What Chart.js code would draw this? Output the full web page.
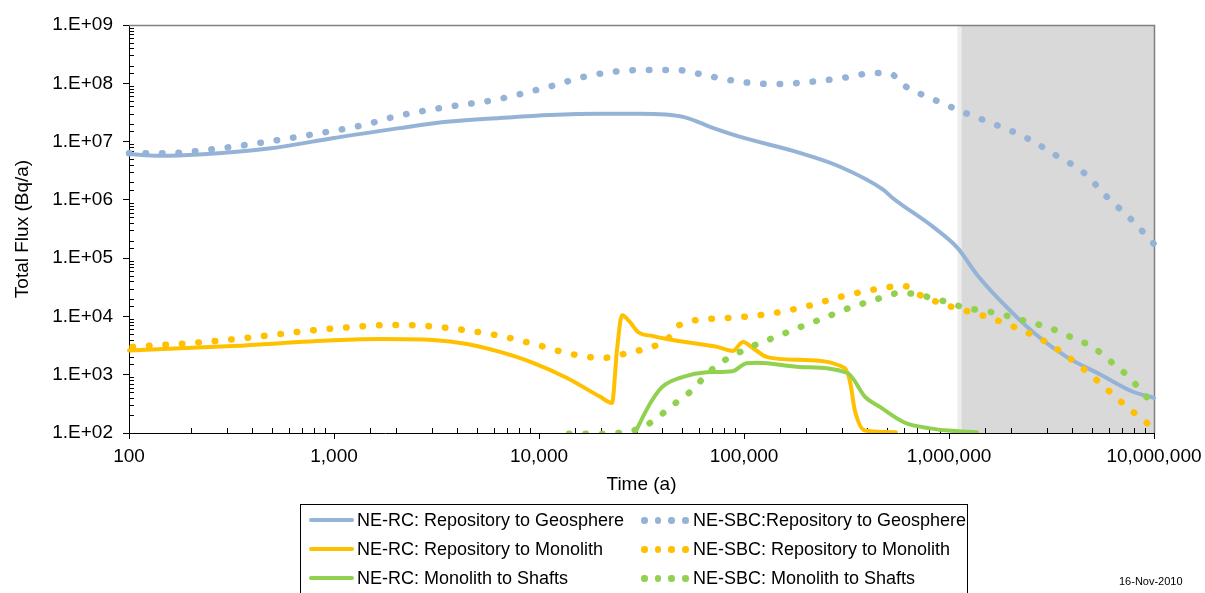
<!DOCTYPE html>
<html>
<head>
<meta charset="utf-8">
<script src="https://cdn.jsdelivr.net/npm/chart.js@4/dist/chart.umd.min.js"></script>
<style>
  body { margin: 0; background: #fff; }
  #wrap { position: relative; width: 1205px; height: 593px; overflow: hidden; font-family: "Liberation Sans", Arial, sans-serif; }
  #legend { position: absolute; left: 300px; top: 504px; width: 668px; height: 100px; border: 1px solid #000; box-sizing: border-box; }
  .item { position: absolute; font-size: 18px; line-height: 20px; color: #000; white-space: nowrap; }
  .swatch { position: absolute; top: 8px; height: 4px; border-radius: 2px; }
  .dot { position: absolute; top: 7px; width: 6.5px; height: 6.5px; border-radius: 50%; }
  #date { position: absolute; left: 1119px; top: 575px; font-size: 11px; color: #000; }
</style>
</head>
<body>
<div id="wrap">
  <canvas id="myChart" width="1205" height="593"></canvas>
  <div id="legend"></div>
  <div id="date">16-Nov-2010</div>
</div>
<script>
// tick labels
const xTickLabels = ['100', '1,000', '10,000', '100,000', '1,000,000', '10,000,000'];
const yTickLabels = ['1.E+02', '1.E+03', '1.E+04', '1.E+05', '1.E+06', '1.E+07', '1.E+08', '1.E+09'];

// series names (legend order: rows, two columns)
const seriesLabels = [
  'NE-RC: Repository to Geosphere', 'NE-SBC:Repository to Geosphere',
  'NE-RC: Repository to Monolith', 'NE-SBC: Repository to Monolith',
  'NE-RC: Monolith to Shafts', 'NE-SBC: Monolith to Shafts'
];

// NE-RC: Repository to Geosphere
const rcGeoT = [100, 140, 220, 480, 1000, 2090, 3660, 6460, 1.13e4, 2.0e4, 3.1e4, 5.1e4, 7.1e4, 9.6e4, 1.87e5, 2.94e5, 4.77e5, 5.27e5, 8.4e5, 1.1e6, 1.37e6, 1.77e6, 2.6e6, 3.76e6, 5.5e6, 7.9e6, 1e7];
const rcGeoV = [6.1e6, 5.7e6, 6.0e6, 7.6e6, 1.15e7, 1.7e7, 2.2e7, 2.54e7, 2.86e7, 3.0e7, 3.0e7, 2.63e7, 1.7e7, 1.2e7, 6.4e6, 3.7e6, 1.5e6, 1.1e6, 3.4e5, 1.5e5, 5.2e4, 1.9e4, 5.2e3, 2.0e3, 1.0e3, 5.1e2, 4.0e2];

// NE-SBC: Repository to Geosphere
const sbcGeoT = [100, 150, 265, 460, 807, 1400, 2030, 3520, 6100, 1.06e4, 1.83e4, 3.2e4, 4.66e4, 6.75e4, 9.8e4, 1.43e5, 2.07e5, 3.0e5, 4.36e5, 5.2e5, 6.0e5, 8.5e5, 1.2e6, 1.7e6, 2.4e6, 3.3e6, 4.56e6, 5.9e6, 7.7e6, 1e7];
const sbcGeoV = [6.3e6, 6.3e6, 7.5e6, 9.8e6, 1.35e7, 1.93e7, 2.74e7, 3.9e7, 5.2e7, 8.3e7, 1.39e8, 1.69e8, 1.69e8, 1.33e8, 1.05e8, 9.7e7, 1.05e8, 1.23e8, 1.5e8, 1.45e8, 9.3e7, 5.2e7, 3.1e7, 1.93e7, 1.15e7, 5.9e6, 2.9e6, 1.12e6, 4.7e5, 1.75e5];

// NE-RC: Repository to Monolith
const rcMonoT = [100, 320, 1000, 1700, 3040, 4460, 6460, 9350, 1.37e4, 1.99e4, 2.27e4, 2.40e4, 2.54e4, 2.78e4, 3.04e4, 3.6e4, 4.2e4, 5.6e4, 7.4e4, 8.8e4, 9.9e4, 1.1e5, 1.3e5, 1.87e5, 3.1e5, 3.3e5, 3.47e5, 3.9e5, 5.5e5];
const rcMonoV = [2.6e3, 3.1e3, 3.9e3, 4.1e3, 3.95e3, 3.37e3, 2.46e3, 1.6e3, 880, 417, 328, 2.6e3, 1.05e4, 8.0e3, 5.4e3, 4.6e3, 4.1e3, 3.5e3, 3.0e3, 2.56e3, 3.65e3, 2.9e3, 2.0e3, 1.8e3, 1.3e3, 720, 249, 110, 103];

// NE-SBC: Repository to Monolith
const sbcMonoT = [104, 235, 412, 723, 1050, 1830, 2270, 3210, 4710, 6830, 9800, 1.42e4, 2.05e4, 2.48e4, 3.0e4, 3.55e4, 4.2e4, 4.7e4, 5.6e4, 6.7e4, 9.8e4, 1.42e5, 2.05e5, 2.94e5, 4.2e5, 5.1e5, 6.1e5, 7.2e5, 1.03e6, 1.48e6, 2.12e6, 2.97e6, 4.1e6, 5.45e6, 7.1e6, 9.5e6, 1e7];
const sbcMonoV = [3.0e3, 3.65e3, 4.45e3, 5.6e3, 6.3e3, 7.1e3, 7.1e3, 6.6e3, 5.6e3, 4.45e3, 3.25e3, 2.28e3, 1.94e3, 2.2e3, 2.55e3, 3.0e3, 3.95e3, 6.6e3, 8.4e3, 9.0e3, 9.8e3, 1.15e4, 1.51e4, 2.16e4, 2.85e4, 3.2e4, 3.3e4, 2.34e4, 1.46e4, 1.02e4, 6.4e3, 3.65e3, 1.66e3, 720, 316, 138, 122];

// NE-RC: Monolith to Shafts
const rcShaftT = [2.94e4, 3.11e4, 3.5e4, 4.0e4, 5.0e4, 6.6e4, 8.8e4, 1.03e5, 1.16e5, 1.87e5, 3.2e5, 3.9e5, 4.6e5, 6.1e5, 8.1e5, 9.9e5, 1.37e6];
const rcShaftV = [100, 150, 330, 620, 910, 1.1e3, 1.15e3, 1.58e3, 1.6e3, 1.36e3, 1.07e3, 415, 280, 150, 120, 110, 103];

// NE-SBC: Monolith to Shafts
const sbcShaftT = [1.4e4, 2.0e4, 2.94e4, 3.55e4, 4.1e4, 4.7e4, 5.45e4, 6.2e4, 7.1e4, 8.4e4, 9.9e4, 1.17e5, 1.42e5, 1.68e5, 1.99e5, 2.38e5, 2.85e5, 3.37e5, 4.03e5, 4.82e5, 5.77e5, 6.98e5, 8.36e5, 1e6, 1.2e6, 1.45e6, 1.73e6, 2.08e6, 2.48e6, 3.0e6, 3.56e6, 4.21e6, 5.04e6, 5.83e6, 6.75e6, 7.72e6, 8.74e6, 1e7];
const sbcShaftV = [97, 97, 113, 155, 230, 340, 505, 810, 1.3e3, 1.94e3, 2.6e3, 3.4e3, 4.4e3, 5.6e3, 7.1e3, 9.0e3, 1.16e4, 1.46e4, 1.77e4, 2.16e4, 2.53e4, 2.4e4, 2.03e4, 1.73e4, 1.4e4, 1.27e4, 1.12e4, 9.5e3, 7.9e3, 6.6e3, 5.2e3, 3.95e3, 3.0e3, 1.94e3, 1.3e3, 840, 505, 303];

// start of the grey band (years)
const shadeStart = 1.15e6;

const blue = '#95B3D7';
const orange = '#FFC000';
const green = '#92D050';
const colors = [blue, blue, orange, orange, green, green];
const dotted = [false, true, false, true, false, true];

function pts(t, v) { return t.map((x, i) => ({ x: x, y: v[i] })); }
function isPow10(v) { const l = Math.log10(v); return Math.abs(l - Math.round(l)) < 1e-6; }

const series = [pts(rcGeoT, rcGeoV), pts(sbcGeoT, sbcGeoV), pts(rcMonoT, rcMonoV),
                pts(sbcMonoT, sbcMonoV), pts(rcShaftT, rcShaftV), pts(sbcShaftT, sbcShaftV)];

const datasets = series.map((d, i) => ({
  label: seriesLabels[i],
  data: d,
  borderColor: colors[i],
  backgroundColor: colors[i],
  borderWidth: dotted[i] ? 6.5 : 4,
  borderDash: dotted[i] ? [0.5, 16] : [],
  borderCapStyle: 'round',
  borderJoinStyle: 'round',
  cubicInterpolationMode: 'monotone',
  pointRadius: 0,
  order: 6 - i,
  clip: { left: 8, top: 8, right: 8, bottom: 0 }
}));

const axisFont = { family: "'Liberation Sans', Arial, sans-serif", size: 19 };

const framePlugin = {
  id: 'frame',
  beforeDraw(chart) {
    const { ctx, chartArea: a, scales: { x } } = chart;
    const sx = x.getPixelForValue(shadeStart);
    ctx.save();
    ctx.fillStyle = '#EDEDED';
    ctx.fillRect(sx - 4, a.top, 4, a.bottom - a.top);
    ctx.fillStyle = '#D9D9D9';
    ctx.fillRect(sx, a.top, a.right - sx, a.bottom - a.top);
    ctx.restore();
  },
  beforeDatasetsDraw(chart) {
    const { ctx, chartArea: a, scales: { x, y } } = chart;
    ctx.save();
    ctx.strokeStyle = '#808080';
    ctx.lineWidth = 1.5;
    ctx.beginPath();
    ctx.moveTo(a.left, a.top + 0.5);
    ctx.lineTo(a.right + 0.5, a.top + 0.5);
    ctx.lineTo(a.right + 0.5, a.bottom);
    ctx.stroke();
    // minor ticks point inwards
    ctx.strokeStyle = '#000';
    ctx.lineWidth = 1;
    ctx.beginPath();
    x.ticks.forEach(t => {
      if (isPow10(t.value)) return;
      const px = Math.round(x.getPixelForValue(t.value)) + 0.5;
      ctx.moveTo(px, a.bottom); ctx.lineTo(px, a.bottom - 5);
    });
    y.ticks.forEach(t => {
      if (isPow10(t.value)) return;
      const py = Math.round(y.getPixelForValue(t.value)) + 0.5;
      ctx.moveTo(a.left, py); ctx.lineTo(a.left + 5, py);
    });
    ctx.stroke();
    ctx.restore();
  }
};

const ctx = document.getElementById('myChart').getContext('2d');
const myChart = new Chart(ctx, {
  type: 'line',
  data: { datasets: datasets },
  plugins: [framePlugin],
  options: {
    responsive: false,
    animation: false,
    events: [],
    layout: { padding: { left: 0, top: 25, right: 51, bottom: 97 } },
    plugins: { legend: { display: false }, tooltip: { enabled: false } },
    scales: {
      x: {
        type: 'logarithmic',
        min: 100,
        max: 1e7,
        afterFit: s => { s.height = 63; s.paddingLeft = 0; s.paddingRight = 0; },
        border: { display: true, color: '#000', width: 1 },
        grid: {
          drawOnChartArea: false,
          drawTicks: true,
          tickLength: 6,
          tickColor: c => (c.tick && isPow10(c.tick.value)) ? '#000' : 'rgba(0,0,0,0)'
        },
        ticks: {
          autoSkip: false,
          maxRotation: 0,
          padding: 6,
          color: '#000',
          font: axisFont,
          callback: v => isPow10(v) ? xTickLabels[Math.round(Math.log10(v)) - 2] : ''
        },
        title: { display: true, text: 'Time (a)', color: '#000', font: axisFont, padding: { top: 0, bottom: 0 } }
      },
      y: {
        type: 'logarithmic',
        min: 100,
        max: 1e9,
        afterFit: s => { s.width = 129; },
        border: { display: true, color: '#000', width: 1 },
        grid: {
          drawOnChartArea: false,
          drawTicks: true,
          tickLength: 6,
          tickColor: c => (c.tick && isPow10(c.tick.value)) ? '#000' : 'rgba(0,0,0,0)'
        },
        ticks: {
          autoSkip: false,
          padding: 10,
          color: '#000',
          font: axisFont,
          callback: v => isPow10(v) ? yTickLabels[Math.round(Math.log10(v)) - 2] : ''
        },
        title: { display: true, text: 'Total Flux (Bq/a)', color: '#000', font: axisFont, padding: { top: 11, bottom: 0 } }
      }
    }
  }
});

// legend built from the datasets, two columns
const legend = document.getElementById('legend');
const rowY = [5, 34, 63];
myChart.data.datasets.forEach((ds, i) => {
  const row = Math.floor(i / 2), col = i % 2;
  const sampleLeft = col === 0 ? 8 : 340;
  const textLeft = col === 0 ? 56 : 392;
  if (!dotted[i]) {
    const sw = document.createElement('div');
    sw.className = 'swatch';
    sw.style.left = sampleLeft + 'px';
    sw.style.top = (rowY[row] + 8) + 'px';
    sw.style.width = '45px';
    sw.style.background = ds.borderColor;
    legend.appendChild(sw);
  } else {
    for (let k = 0; k < 4; k++) {
      const d = document.createElement('div');
      d.className = 'dot';
      d.style.left = (sampleLeft + k * 13.7) + 'px';
      d.style.top = (rowY[row] + 7) + 'px';
      d.style.background = ds.borderColor;
      legend.appendChild(d);
    }
  }
  const tx = document.createElement('div');
  tx.className = 'item';
  tx.style.left = textLeft + 'px';
  tx.style.top = rowY[row] + 'px';
  tx.textContent = ds.label;
  legend.appendChild(tx);
});
</script>
</body>
</html>
